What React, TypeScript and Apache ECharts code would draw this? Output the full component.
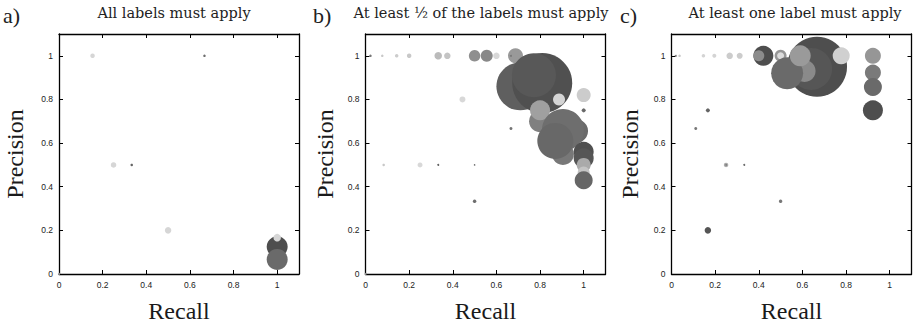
import React, { useEffect, useRef } from "react";
import * as echarts from "echarts";

// Panel a) All labels must apply
const aRecall = [0, 0.1538, 0.6667, 0.25, 0.3333, 0.5, 1, 1, 1];
const aPrecision = [0, 1, 1, 0.5, 0.5, 0.2, 0.125, 0.1667, 0.0667];
const aSize = [2, 4.5, 2.5, 5.5, 2.5, 6.5, 21, 7.5, 21];
const aShade = [150, 214, 110, 214, 100, 214, 78, 214, 106];

// Panel b) At least 1/2 of the labels must apply
const bRecall = [0, 0.0227, 0.0769, 0.1429, 0.2, 0.3333, 0.375, 0.5, 0.5556, 0.6, 0.6875, 0.6667, 0.4444, 0.0833, 0.25, 0.3333, 0.5, 0.5, 0.6667, 1, 0.71, 0.81, 0.772, 0.8, 0.8, 0.887, 1, 0.905, 0.965, 0.905, 0.87, 1, 1, 1, 1, 1];
const bPrecision = [0, 1, 1, 1, 1, 1, 1, 1, 1, 1, 1, 1, 0.8, 0.5, 0.5, 0.5, 0.5, 0.3333, 0.6667, 0.75, 0.86, 0.875, 0.911, 0.7, 0.75, 0.8, 0.82, 0.55, 0.655, 0.66, 0.61, 0.56, 0.53, 0.5, 0.465, 0.43];
const bSize = [2, 2.5, 2.5, 3.5, 4.5, 7.5, 6.5, 11.5, 12, 6.5, 15, 2, 6, 2.5, 5, 2, 1.5, 3.5, 3, 4, 48, 60, 44, 22, 20, 12, 14, 22, 24, 42, 36, 20, 20, 14, 12, 18];
const bShade = [150, 120, 200, 204, 200, 187, 196, 143, 136, 216, 153, 120, 216, 200, 216, 100, 100, 110, 115, 105, 95, 80, 88, 128, 160, 212, 204, 120, 106, 110, 104, 80, 86, 170, 196, 102];

// Panel c) At least one label must apply
const cRecall = [0.0196, 0.037, 0.1463, 0.1961, 0.2667, 0.3125, 0.4211, 0.4, 0.5, 0.5, 0.667, 0.64, 0.61, 0.53, 0.59, 0.7778, 0.9231, 0.9231, 0.9231, 0.9231, 0.1667, 0.1111, 0.25, 0.25, 0.3333, 0.5, 0.1667];
const cPrecision = [1, 1, 1, 1, 1, 1, 1, 1, 1, 1, 0.95, 0.94, 0.93, 0.92, 1, 1, 1, 0.923, 0.857, 0.75, 0.75, 0.6667, 0.5, 0.5, 0.5, 0.3333, 0.2];
const cSize = [2, 2.5, 3.5, 4, 6.5, 6, 20, 11, 12, 7, 60, 42, 22, 32, 21, 17, 16, 16, 18, 20, 4, 3, 4.5, 1.5, 2, 3.5, 6.5];
const cShade = [120, 200, 212, 212, 204, 204, 78, 140, 150, 220, 78, 86, 138, 106, 154, 208, 150, 122, 106, 78, 100, 120, 170, 110, 110, 120, 85];

const tickValues = [0, 0.2, 0.4, 0.6, 0.8, 1];
const panelTitles = ["All labels must apply", "At least \u00bd of the labels must apply", "At least one label must apply"];
const panelLetters = ["a)", "b)", "c)"];

const panels = [
  { r: aRecall, p: aPrecision, s: aSize, g: aShade },
  { r: bRecall, p: bPrecision, s: bSize, g: bShade },
  { r: cRecall, p: cPrecision, s: cSize, g: cShade },
];

const gridLefts = [59, 365.5, 671.5];
const gridTop = 34;
const gridW = 240;
const gridH = 240;
const titleX = [174, 481, 795];
const letterX = [3, 313, 620];
const yNameGap = [32, 29, 30];

export default function App() {
  const ref = useRef<HTMLDivElement>(null);
  useEffect(() => {
    document.body.style.margin = "0";
    if (!ref.current) return;
    const chart = echarts.init(ref.current, undefined, { renderer: "svg" });
    const grids: any[] = [];
    const xAxes: any[] = [];
    const yAxes: any[] = [];
    const series: any[] = [];
    const graphics: any[] = [];
    const lineStyle = { color: "#000", width: 1.3 };
    const tickStyle = { show: true, inside: true, length: 4, lineStyle: { color: "#000", width: 1 }, customValues: tickValues };
    const labelStyle = { show: true, customValues: tickValues, fontFamily: "Liberation Sans", fontSize: 8.5, color: "#222", margin: 6 };
    panels.forEach((pd, i) => {
      grids.push({ left: gridLefts[i], top: gridTop, width: gridW, height: gridH });
      const base = { type: "value", min: 0, max: 1.1, gridIndex: i, splitLine: { show: false }, axisLine: { show: true, onZero: false, lineStyle } };
      xAxes.push({
        ...base,
        position: "bottom",
        name: "Recall",
        nameLocation: "middle",
        nameGap: 25,
        nameTextStyle: { fontFamily: "Liberation Serif", fontSize: 24, color: "#1a1a1a" },
        axisTick: tickStyle,
        axisLabel: labelStyle,
      });
      xAxes.push({ ...base, position: "top", axisTick: tickStyle, axisLabel: { show: false } });
      yAxes.push({
        ...base,
        position: "left",
        name: "Precision",
        nameLocation: "middle",
        nameGap: yNameGap[i],
        nameTextStyle: { fontFamily: "Liberation Serif", fontSize: 24, color: "#1a1a1a" },
        axisTick: tickStyle,
        axisLabel: labelStyle,
      });
      yAxes.push({ ...base, position: "right", axisTick: tickStyle, axisLabel: { show: false } });
      const data = pd.r.map((x, k) => [x, pd.p[k], pd.s[k], pd.g[k]]);
      series.push({
        type: "scatter",
        xAxisIndex: i * 2,
        yAxisIndex: i * 2,
        data,
        symbol: "circle",
        symbolSize: (v: number[]) => v[2],
        itemStyle: {
          color: (params: any) => {
            const g = params.data[3];
            return `rgb(${g},${g},${g})`;
          },
          opacity: 1,
        },
        emphasis: { disabled: true },
        clip: false,
      });
      graphics.push({
        type: "text",
        x: titleX[i],
        y: 12.5,
        style: { text: panelTitles[i], fontFamily: "DejaVu Serif", fontSize: 14.5, fill: "#222", textAlign: "center", textVerticalAlign: "middle" },
      });
      graphics.push({
        type: "text",
        x: letterX[i],
        y: 15,
        style: { text: panelLetters[i], fontFamily: "Liberation Serif", fontSize: 22, fill: "#222", textAlign: "left", textVerticalAlign: "middle" },
      });
    });
    chart.setOption({
      animation: false,
      backgroundColor: "#fff",
      grid: grids,
      xAxis: xAxes,
      yAxis: yAxes,
      series,
      graphic: graphics,
    });
    return () => chart.dispose();
  }, []);
  return <div ref={ref} style={{ width: 913, height: 329 }} />;
}
